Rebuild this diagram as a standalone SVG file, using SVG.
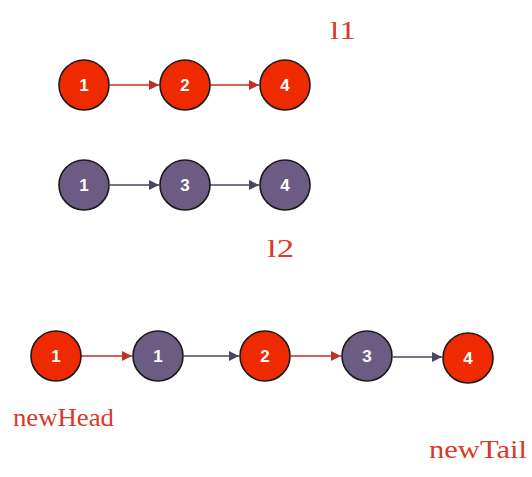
<svg xmlns="http://www.w3.org/2000/svg" width="532" height="477" viewBox="0 0 532 477">
<style>
.r{fill:#ef2a00;stroke:#1a1a1a;stroke-width:1.6}
.p{fill:#6c5c84;stroke:#1a1a1a;stroke-width:1.6}
.t{fill:#fff;font-family:"Liberation Sans",Arial,sans-serif;font-weight:bold;font-size:17px;text-anchor:middle}
.ra{stroke:#c0302a;stroke-width:1.6;fill:none;marker-end:url(#mr)}
.pa{stroke:#4a4560;stroke-width:1.6;fill:none;marker-end:url(#mp)}
.lb{fill:#d9382a;font-family:"Liberation Serif","Times New Roman",serif;font-size:26px}
</style>
<defs>
<marker id="mr" viewBox="0 0 10 10" refX="10" refY="5" markerWidth="6.5" markerHeight="6.5" orient="auto" markerUnits="strokeWidth"><path d="M0,0L10,5L0,10z" fill="#c0302a"/></marker>
<marker id="mp" viewBox="0 0 10 10" refX="10" refY="5" markerWidth="6.5" markerHeight="6.5" orient="auto" markerUnits="strokeWidth"><path d="M0,0L10,5L0,10z" fill="#4a4560"/></marker>
</defs>
<rect width="532" height="477" fill="#fff"/>
<g id="connectors">
<line class="ra" x1="110" y1="85" x2="159" y2="85"/>
<line class="ra" x1="210" y1="85" x2="259" y2="85"/>
<line class="pa" x1="110" y1="185" x2="159" y2="185"/>
<line class="pa" x1="210" y1="185" x2="259" y2="185"/>
<line class="ra" x1="81" y1="356" x2="132" y2="356"/>
<line class="pa" x1="184" y1="356" x2="239" y2="356"/>
<line class="ra" x1="291" y1="356" x2="341" y2="356"/>
<line class="pa" x1="393" y1="357" x2="442" y2="357"/>
</g>
<g id="l1_1"><circle class="r" cx="84" cy="85" r="25"/><text class="t" x="84" y="91">1</text></g>
<g id="l1_2"><circle class="r" cx="185" cy="85" r="25"/><text class="t" x="185" y="91">2</text></g>
<g id="l1_4"><circle class="r" cx="285" cy="85" r="25"/><text class="t" x="285" y="91">4</text></g>
<g id="l2_1"><circle class="p" cx="84" cy="185" r="25"/><text class="t" x="84" y="191">1</text></g>
<g id="l2_3"><circle class="p" cx="185" cy="185" r="25"/><text class="t" x="185" y="191">3</text></g>
<g id="l2_4"><circle class="p" cx="285" cy="185" r="25"/><text class="t" x="285" y="191">4</text></g>
<g id="n_1a"><circle class="r" cx="56" cy="356" r="25"/><text class="t" x="56" y="362">1</text></g>
<g id="n_1b"><circle class="p" cx="158" cy="356" r="25"/><text class="t" x="158" y="362">1</text></g>
<g id="n_2"><circle class="r" cx="265" cy="356" r="25"/><text class="t" x="265" y="362">2</text></g>
<g id="n_3"><circle class="p" cx="367" cy="356" r="25"/><text class="t" x="367" y="362">3</text></g>
<g id="n_4"><circle class="r" cx="468" cy="358" r="25"/><text class="t" x="468" y="364">4</text></g>
<g id="labels">
<text class="lb" x="330" y="39" textLength="26" lengthAdjust="spacingAndGlyphs">l1</text>
<text class="lb" x="267" y="257" textLength="27" lengthAdjust="spacingAndGlyphs">l2</text>
<text class="lb" x="13" y="426" textLength="101" lengthAdjust="spacingAndGlyphs">newHead</text>
<text class="lb" x="429" y="458" textLength="98" lengthAdjust="spacingAndGlyphs">newTail</text>
</g>
</svg>
